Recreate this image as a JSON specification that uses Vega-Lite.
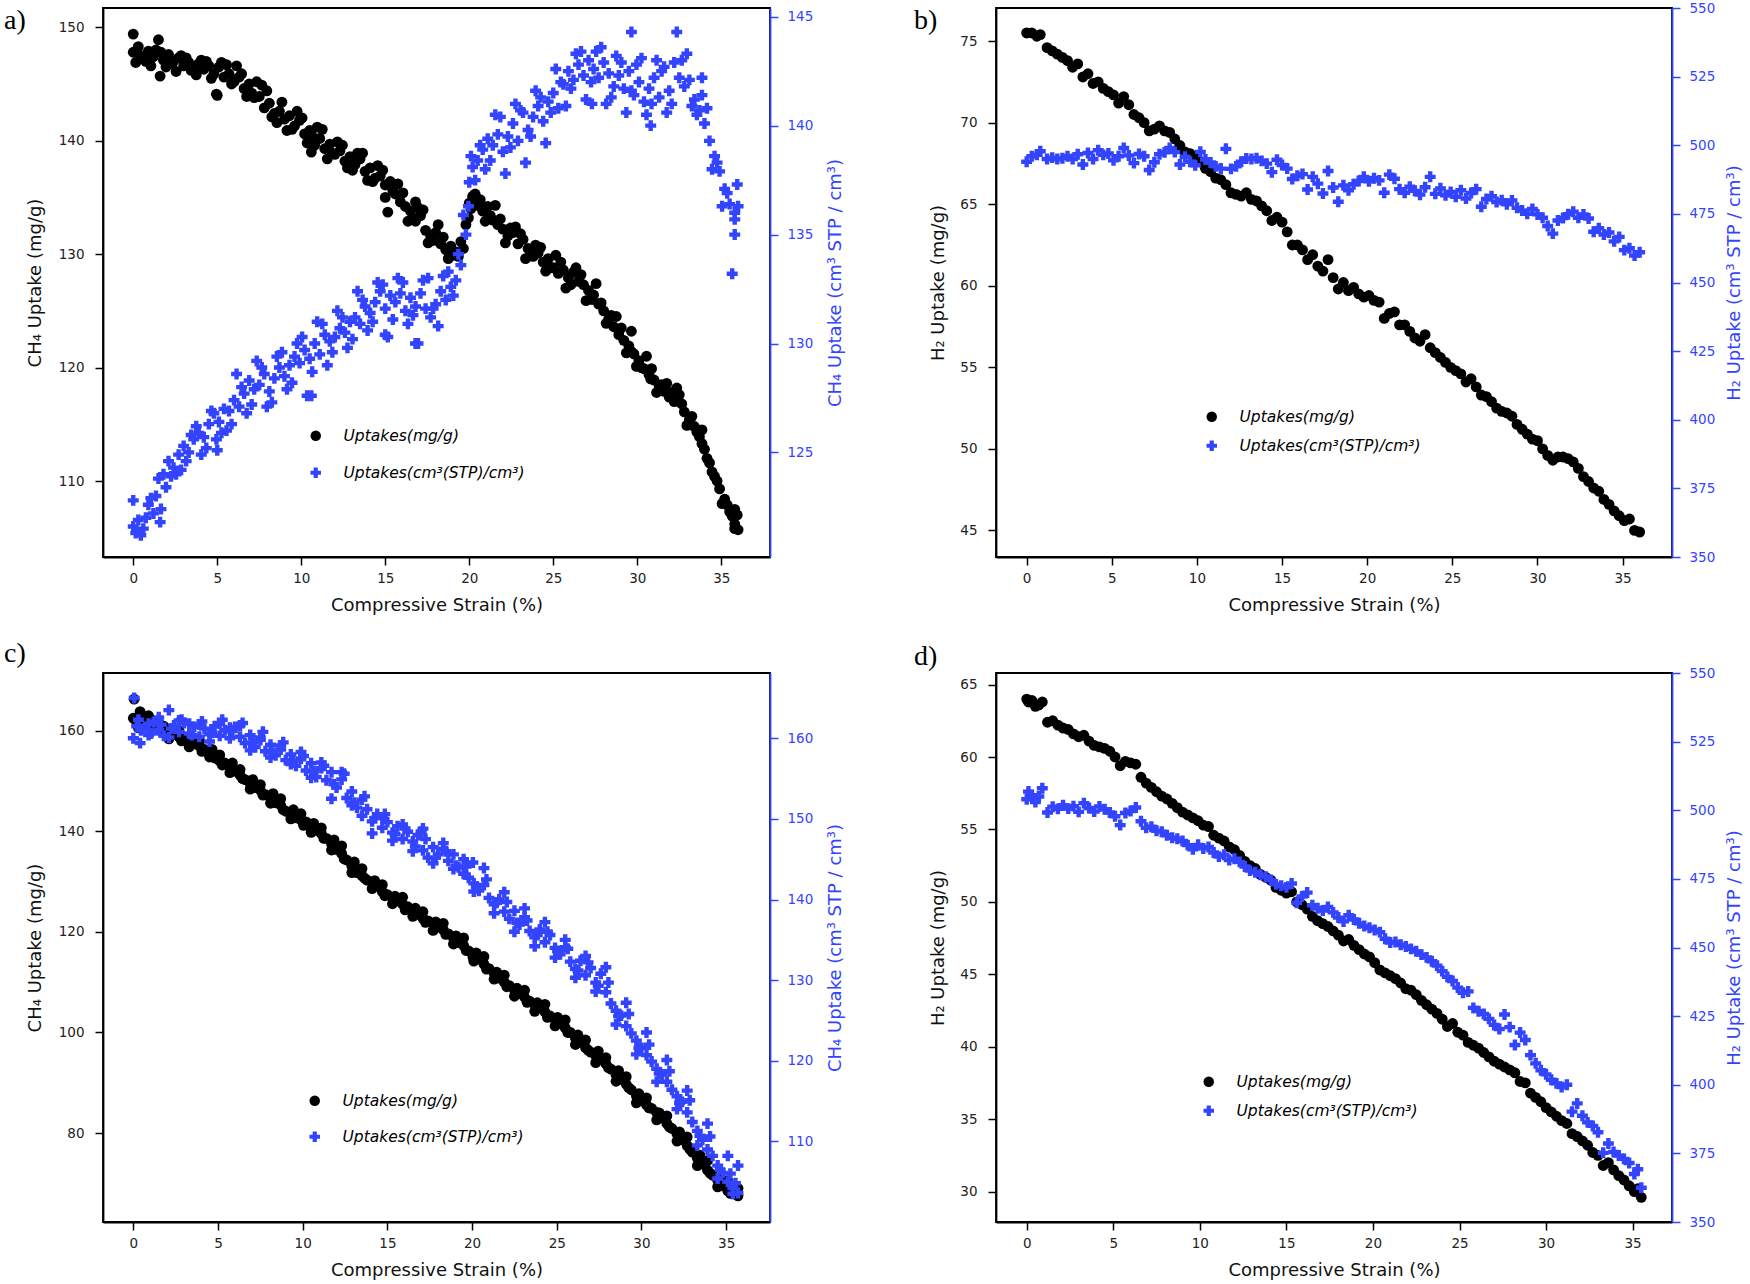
{
"$schema": "https://vega.github.io/schema/vega-lite/v6.json",
"padding": {"left": 3, "top": 0, "right": 5, "bottom": 5},
"background": "white",
"config": {
 "view": {"stroke": "black", "strokeWidth": 1.8},
 "font": "DejaVu Sans",
 "point": {"filled": true, "opacity": 1, "strokeWidth": 0},
 "axis": {"grid": false, "labelFont": "DejaVu Sans", "labelFontSize": 13.5, "labelColor": "#222222", "titleFont": "DejaVu Sans", "titleFontSize": 18, "titleFontWeight": "normal", "titleColor": "#111111", "tickSize": 8, "tickWidth": 1.5, "domainWidth": 1.8, "labelPadding": 6, "domainColor": "black", "tickColor": "black", "labelFlush": false, "labelOverlap": false},
 "axisLeft": {"labelPadding": 11},
 "axisRight": {"labelPadding": 9},
 "legend": {"orient": "none", "title": null, "labelFont": "DejaVu Sans", "labelFontStyle": "italic", "labelFontSize": 15.5, "labelLimit": 400, "symbolSize": 110, "symbolStrokeWidth": 0, "symbolOpacity": 1, "labelOffset": 20, "padding": 0},
 "title": {"font": "Liberation Serif", "fontSize": 28, "fontWeight": "normal", "color": "black", "anchor": "start", "frame": "group", "baseline": "top"}
},
"datasets": {
"a": [
{"x":0.0,"m":147.8,"v":121.6},{"x":0.3,"m":148.3,"v":121.9},{"x":0.6,"m":147.2,"v":121.5},{"x":0.9,"m":147.9,"v":122.6},{"x":1.2,"m":147.4,"v":122.2},{"x":1.5,"m":148.9,"v":123.8},{"x":1.8,"m":147.1,"v":124.0},{"x":2.1,"m":147.6,"v":124.6},{"x":2.4,"m":147.0,"v":124.3},{"x":2.7,"m":147.3,"v":124.9},
{"x":3.0,"m":146.6,"v":125.3},{"x":3.3,"m":146.9,"v":125.0},{"x":3.6,"m":146.4,"v":125.6},{"x":3.9,"m":146.8,"v":125.9},{"x":4.2,"m":146.3,"v":125.7},{"x":4.5,"m":146.6,"v":126.3},{"x":4.8,"m":145.9,"v":126.8},{"x":5.1,"m":146.5,"v":126.4},{"x":5.4,"m":145.6,"v":127.0},{"x":5.7,"m":145.9,"v":126.9},
{"x":6.0,"m":145.2,"v":127.4},{"x":6.3,"m":145.6,"v":127.1},{"x":6.6,"m":144.6,"v":127.7},{"x":6.9,"m":145.0,"v":128.3},{"x":7.2,"m":143.8,"v":127.9},{"x":7.5,"m":143.9,"v":128.1},{"x":7.8,"m":142.9,"v":128.6},{"x":8.1,"m":143.3,"v":127.8},{"x":8.4,"m":142.4,"v":128.4},{"x":8.7,"m":142.6,"v":128.9},
{"x":9.0,"m":141.9,"v":128.5},{"x":9.3,"m":142.2,"v":129.0},{"x":9.6,"m":141.3,"v":129.4},{"x":9.9,"m":141.8,"v":129.1},{"x":10.2,"m":140.6,"v":129.7},{"x":10.5,"m":140.9,"v":129.3},{"x":10.8,"m":139.6,"v":130.0},{"x":11.1,"m":140.2,"v":129.5},{"x":11.4,"m":139.3,"v":130.4},{"x":11.7,"m":139.7,"v":130.1},
{"x":12.0,"m":138.8,"v":130.3},{"x":12.3,"m":139.1,"v":130.7},{"x":12.6,"m":138.2,"v":130.5},{"x":12.9,"m":138.6,"v":131.0},{"x":13.2,"m":137.9,"v":131.2},{"x":13.5,"m":138.4,"v":130.9},{"x":13.8,"m":137.3,"v":131.7},{"x":14.1,"m":137.6,"v":131.4},{"x":14.4,"m":136.7,"v":131.9},{"x":14.7,"m":136.9,"v":132.4},
{"x":15.0,"m":136.1,"v":131.6},{"x":15.3,"m":136.4,"v":132.2},{"x":15.6,"m":135.3,"v":131.9},{"x":15.9,"m":134.6,"v":132.3},{"x":16.2,"m":134.2,"v":131.5},{"x":16.5,"m":133.8,"v":132.1},{"x":16.8,"m":132.9,"v":131.7},{"x":17.1,"m":133.4,"v":132.3},{"x":17.4,"m":132.1,"v":131.6},{"x":17.7,"m":131.6,"v":131.2},
{"x":18.0,"m":131.9,"v":131.8},{"x":18.3,"m":130.9,"v":132.4},{"x":18.6,"m":130.4,"v":132.0},{"x":18.9,"m":130.7,"v":132.6},{"x":19.2,"m":130.2,"v":132.9},{"x":19.5,"m":131.1,"v":133.6},{"x":19.8,"m":132.6,"v":135.0},{"x":20.0,"m":134.5,"v":137.4},{"x":20.2,"m":135.1,"v":138.1},{"x":20.5,"m":134.3,"v":138.4},
{"x":20.8,"m":133.8,"v":138.9},{"x":21.1,"m":134.2,"v":139.4},{"x":21.4,"m":133.0,"v":139.1},{"x":21.7,"m":132.6,"v":139.6},{"x":22.0,"m":132.2,"v":138.8},{"x":22.3,"m":131.6,"v":139.5},{"x":22.6,"m":131.9,"v":140.1},{"x":22.9,"m":130.9,"v":139.3},{"x":23.2,"m":131.3,"v":140.6},{"x":23.5,"m":130.5,"v":139.8},
{"x":23.8,"m":129.8,"v":140.4},{"x":24.1,"m":130.1,"v":140.9},{"x":24.4,"m":129.3,"v":140.2},{"x":24.7,"m":129.6,"v":141.1},{"x":25.0,"m":128.8,"v":141.5},{"x":25.3,"m":128.3,"v":140.8},{"x":25.6,"m":128.6,"v":141.9},{"x":25.9,"m":127.9,"v":142.5},{"x":26.2,"m":128.4,"v":142.1},{"x":26.5,"m":127.6,"v":142.8},
{"x":26.8,"m":127.3,"v":142.3},{"x":27.1,"m":126.8,"v":143.0},{"x":27.4,"m":126.4,"v":142.6},{"x":27.7,"m":125.6,"v":142.2},{"x":28.0,"m":125.0,"v":142.9},{"x":28.3,"m":124.3,"v":142.4},{"x":28.6,"m":123.6,"v":141.8},{"x":28.9,"m":122.9,"v":142.3},{"x":29.2,"m":122.4,"v":141.7},{"x":29.5,"m":121.9,"v":142.5},
{"x":29.8,"m":121.2,"v":141.4},{"x":30.1,"m":120.6,"v":142.0},{"x":30.4,"m":119.9,"v":141.1},{"x":30.7,"m":119.4,"v":141.7},{"x":31.0,"m":118.9,"v":142.2},{"x":31.3,"m":118.4,"v":141.3},{"x":31.6,"m":117.9,"v":142.7},{"x":31.9,"m":117.4,"v":141.6},{"x":32.2,"m":117.0,"v":142.9},{"x":32.5,"m":117.6,"v":142.2},
{"x":32.8,"m":116.1,"v":141.8},{"x":33.1,"m":115.4,"v":142.1},{"x":33.4,"m":114.8,"v":141.2},{"x":33.7,"m":113.9,"v":140.7},{"x":34.0,"m":112.8,"v":140.1},{"x":34.3,"m":111.6,"v":139.3},{"x":34.6,"m":110.4,"v":138.6},{"x":34.9,"m":109.3,"v":137.9},{"x":35.2,"m":108.4,"v":137.1},{"x":35.5,"m":107.3,"v":136.4},
{"x":35.8,"m":106.2,"v":135.7},{"x":36.0,"m":105.7,"v":136.3},
{"x":0.15,"m":146.9,"v":121.3},{"x":0.75,"m":147.0,"v":122.0},{"x":1.35,"m":148.0,"v":123.0},{"x":1.95,"m":146.5,"v":123.4},{"x":2.55,"m":146.1,"v":124.0},{"x":3.15,"m":147.3,"v":124.6},{"x":3.75,"m":145.8,"v":126.2},{"x":4.35,"m":147.0,"v":125.2},{"x":4.95,"m":144.1,"v":125.6},{"x":5.55,"m":146.7,"v":126.0},
{"x":6.15,"m":146.6,"v":128.6},{"x":6.75,"m":143.9,"v":126.8},{"x":7.35,"m":145.2,"v":129.2},{"x":7.95,"m":144.4,"v":127.1},{"x":8.55,"m":141.6,"v":129.4},{"x":9.15,"m":140.9,"v":127.9},{"x":9.75,"m":142.6,"v":130.0},{"x":10.35,"m":139.8,"v":127.6},{"x":10.95,"m":141.2,"v":131.0},{"x":11.55,"m":138.4,"v":129.0},
{"x":12.15,"m":139.9,"v":131.5},{"x":12.75,"m":137.6,"v":129.8},{"x":13.35,"m":138.9,"v":132.4},{"x":13.95,"m":136.5,"v":130.6},{"x":14.55,"m":137.8,"v":132.8},{"x":15.15,"m":133.7,"v":130.3},{"x":15.75,"m":136.2,"v":133.0},{"x":16.35,"m":132.9,"v":130.9},{"x":16.95,"m":134.1,"v":130.0},{"x":17.55,"m":131.0,"v":133.0},
{"x":18.15,"m":132.6,"v":130.8},{"x":18.75,"m":129.6,"v":133.3},{"x":19.35,"m":129.8,"v":134.1},{"x":19.65,"m":130.5,"v":135.9},{"x":19.95,"m":133.2,"v":136.3},{"x":20.35,"m":135.3,"v":137.5},{"x":20.95,"m":132.9,"v":138.0},{"x":21.55,"m":134.3,"v":140.5},{"x":22.15,"m":131.0,"v":137.8},{"x":22.75,"m":132.4,"v":141.0},
{"x":23.35,"m":129.6,"v":138.3},{"x":23.95,"m":130.8,"v":141.6},{"x":24.55,"m":128.5,"v":139.2},{"x":25.15,"m":129.9,"v":142.6},{"x":25.75,"m":127.0,"v":140.9},{"x":26.35,"m":128.8,"v":143.3},{"x":26.95,"m":125.9,"v":141.2},{"x":27.55,"m":127.4,"v":143.4},{"x":28.15,"m":123.9,"v":141.0},{"x":28.75,"m":124.5,"v":143.2},
{"x":29.35,"m":121.3,"v":140.6},{"x":29.65,"m":123.2,"v":144.3},{"x":29.95,"m":120.1,"v":142.8},{"x":30.55,"m":121.0,"v":140.5},{"x":31.15,"m":117.8,"v":143.0},{"x":31.75,"m":118.6,"v":140.6},{"x":32.35,"m":118.2,"v":144.3},{"x":32.95,"m":114.9,"v":143.3},{"x":33.55,"m":114.3,"v":140.5},{"x":33.85,"m":114.5,"v":142.2},
{"x":34.45,"m":110.8,"v":138.0},{"x":35.05,"m":108.0,"v":136.3},{"x":35.65,"m":106.9,"v":133.2},{"x":35.95,"m":107.0,"v":137.3},
{"x":0.0,"m":149.4,"v":122.8},{"x":1.6,"m":145.7,"v":121.8},{"x":5.0,"m":144.0,"v":125.1},{"x":16.8,"m":134.6,"v":130.0},{"x":15.0,"m":135.0,"v":130.4},{"x":10.6,"m":139.0,"v":127.6},{"x":35.8,"m":107.5,"v":135.0},{"x":30.8,"m":119.0,"v":140.0},{"x":27.3,"m":126.0,"v":141.0},
{"x":0.45,"m":147.5,"v":121.2},{"x":1.05,"m":146.6,"v":122.9},{"x":1.65,"m":147.8,"v":122.4},{"x":2.25,"m":146.8,"v":123.9},{"x":2.85,"m":147.5,"v":124.2},{"x":3.45,"m":146.2,"v":125.8},{"x":4.05,"m":147.1,"v":124.9},{"x":4.65,"m":145.5,"v":126.9},{"x":5.25,"m":146.9,"v":125.9},{"x":5.85,"m":145.0,"v":126.3},
{"x":6.45,"m":145.9,"v":128.0},{"x":7.05,"m":144.2,"v":127.2},{"x":7.65,"m":144.9,"v":128.9},{"x":8.25,"m":142.1,"v":127.3},{"x":8.85,"m":143.4,"v":129.6},{"x":9.45,"m":141.0,"v":128.2},{"x":10.05,"m":142.0,"v":130.3},{"x":10.65,"m":140.4,"v":128.7},{"x":11.25,"m":141.0,"v":130.9},{"x":11.85,"m":138.9,"v":129.6},
{"x":12.45,"m":139.6,"v":131.2},{"x":13.05,"m":137.4,"v":130.2},{"x":13.65,"m":138.9,"v":132.0},{"x":14.25,"m":136.4,"v":131.0},{"x":14.85,"m":137.4,"v":132.7},{"x":15.45,"m":135.6,"v":131.1},{"x":16.05,"m":135.4,"v":132.8},{"x":16.65,"m":133.2,"v":131.3},{"x":17.25,"m":133.9,"v":132.9},{"x":17.85,"m":131.2,"v":131.6},
{"x":18.45,"m":131.5,"v":133.1},{"x":19.05,"m":129.9,"v":132.2},{"x":20.1,"m":134.0,"v":138.6},{"x":20.65,"m":134.8,"v":139.1},{"x":21.25,"m":133.4,"v":138.4},{"x":21.85,"m":133.1,"v":140.4},{"x":22.45,"m":132.3,"v":139.0},{"x":23.05,"m":131.8,"v":140.7},{"x":23.65,"m":130.1,"v":139.5},{"x":24.25,"m":130.6,"v":141.3},
{"x":24.85,"m":128.8,"v":140.6},{"x":25.45,"m":129.3,"v":142.0},{"x":26.05,"m":127.3,"v":141.7},{"x":26.65,"m":128.2,"v":143.4},{"x":27.25,"m":126.1,"v":142.0},{"x":27.85,"m":125.7,"v":143.6},{"x":28.45,"m":124.6,"v":141.3},{"x":29.05,"m":123.5,"v":142.9},{"x":29.65,"m":121.4,"v":141.6},{"x":30.25,"m":120.0,"v":143.1},
{"x":30.85,"m":119.9,"v":141.0},{"x":31.45,"m":118.5,"v":142.5},{"x":32.05,"m":117.8,"v":141.0},{"x":32.65,"m":116.8,"v":143.0},{"x":33.25,"m":115.7,"v":140.9},{"x":33.85,"m":113.3,"v":141.4},{"x":34.15,"m":112.0,"v":140.8},{"x":34.75,"m":110.0,"v":138.3},{"x":35.35,"m":107.9,"v":136.9},{"x":35.8,"m":105.8,"v":136.0}
],
"b": [
{"x":0.0,"m":75.5,"v":494.0},{"x":0.3,"m":75.5,"v":496.0},{"x":0.6,"m":75.3,"v":496.5},{"x":0.8,"m":75.4,"v":497.8},{"x":1.2,"m":74.6,"v":495.0},{"x":1.5,"m":74.4,"v":495.5},{"x":1.8,"m":74.2,"v":495.0},{"x":2.1,"m":74.0,"v":495.3},{"x":2.4,"m":73.8,"v":496.0},{"x":2.7,"m":73.4,"v":495.0},
{"x":3.0,"m":73.6,"v":496.7},{"x":3.3,"m":72.8,"v":493.0},{"x":3.6,"m":73.0,"v":497.2},{"x":3.9,"m":72.4,"v":495.0},{"x":4.2,"m":72.5,"v":498.2},{"x":4.5,"m":72.1,"v":496.5},{"x":4.8,"m":71.9,"v":497.0},{"x":5.1,"m":71.7,"v":494.5},{"x":5.4,"m":71.2,"v":496.0},{"x":5.7,"m":71.6,"v":499.0},
{"x":6.0,"m":71.1,"v":496.3},{"x":6.3,"m":70.5,"v":493.5},{"x":6.6,"m":70.3,"v":496.8},{"x":6.9,"m":70.0,"v":496.0},{"x":7.2,"m":69.5,"v":491.0},{"x":7.5,"m":69.6,"v":493.8},{"x":7.8,"m":69.8,"v":496.7},{"x":8.1,"m":69.5,"v":497.4},{"x":8.4,"m":69.4,"v":499.0},{"x":8.7,"m":69.0,"v":497.5},
{"x":9.0,"m":68.6,"v":493.0},{"x":9.3,"m":68.2,"v":495.8},{"x":9.6,"m":68.1,"v":494.0},{"x":9.9,"m":67.9,"v":492.7},{"x":10.2,"m":67.6,"v":497.6},{"x":10.5,"m":67.2,"v":494.8},{"x":10.8,"m":67.0,"v":493.7},{"x":11.1,"m":66.6,"v":492.3},{"x":11.4,"m":66.5,"v":491.5},{"x":11.7,"m":66.2,"v":498.7},
{"x":12.0,"m":65.7,"v":491.4},{"x":12.3,"m":65.6,"v":492.3},{"x":12.6,"m":65.5,"v":494.0},{"x":12.9,"m":65.7,"v":495.2},{"x":13.2,"m":65.3,"v":495.0},{"x":13.5,"m":65.2,"v":495.3},{"x":13.8,"m":64.9,"v":494.3},{"x":14.1,"m":64.6,"v":493.3},{"x":14.4,"m":64.0,"v":490.2},{"x":14.7,"m":64.2,"v":494.7},
{"x":15.0,"m":63.9,"v":492.8},{"x":15.3,"m":63.3,"v":491.5},{"x":15.6,"m":62.5,"v":487.7},{"x":15.9,"m":62.5,"v":488.9},{"x":16.2,"m":62.2,"v":489.5},{"x":16.5,"m":61.6,"v":483.9},{"x":16.8,"m":61.9,"v":488.5},{"x":17.1,"m":61.2,"v":486.0},{"x":17.4,"m":60.9,"v":482.4},{"x":17.7,"m":61.6,"v":490.6},
{"x":18.0,"m":60.5,"v":484.6},{"x":18.3,"m":59.8,"v":479.4},{"x":18.6,"m":60.2,"v":485.4},{"x":18.9,"m":59.7,"v":483.6},{"x":19.2,"m":59.9,"v":485.8},{"x":19.5,"m":59.5,"v":487.0},{"x":19.8,"m":59.3,"v":488.5},{"x":20.1,"m":59.4,"v":486.9},{"x":20.4,"m":59.1,"v":488.0},{"x":20.7,"m":59.0,"v":487.2},
{"x":21.0,"m":58.0,"v":482.7},{"x":21.3,"m":58.3,"v":489.3},{"x":21.6,"m":58.4,"v":487.8},{"x":21.9,"m":57.6,"v":484.0},{"x":22.2,"m":57.6,"v":482.7},{"x":22.5,"m":57.2,"v":484.9},{"x":22.8,"m":56.8,"v":483.4},{"x":23.1,"m":56.6,"v":482.0},{"x":23.4,"m":57.0,"v":484.7},{"x":23.7,"m":56.2,"v":488.5},
{"x":24.0,"m":55.9,"v":482.3},{"x":24.3,"m":55.6,"v":484.3},{"x":24.6,"m":55.3,"v":481.8},{"x":24.9,"m":55.0,"v":483.0},{"x":25.2,"m":54.8,"v":481.2},{"x":25.5,"m":54.6,"v":483.6},{"x":25.8,"m":54.1,"v":480.6},{"x":26.1,"m":54.3,"v":482.6},{"x":26.4,"m":53.8,"v":484.0},{"x":26.7,"m":53.3,"v":477.6},
{"x":27.0,"m":53.2,"v":480.4},{"x":27.3,"m":52.9,"v":481.4},{"x":27.6,"m":52.5,"v":479.3},{"x":27.9,"m":52.3,"v":480.0},{"x":28.2,"m":52.2,"v":478.5},{"x":28.5,"m":52.0,"v":479.9},{"x":28.8,"m":51.5,"v":477.2},{"x":29.1,"m":51.2,"v":476.2},{"x":29.4,"m":50.9,"v":475.0},{"x":29.7,"m":50.6,"v":476.8},
{"x":30.0,"m":50.5,"v":474.8},{"x":30.3,"m":50.0,"v":473.6},{"x":30.6,"m":49.6,"v":470.6},{"x":30.9,"m":49.3,"v":467.8},{"x":31.2,"m":49.5,"v":472.6},{"x":31.5,"m":49.5,"v":473.5},{"x":31.8,"m":49.4,"v":474.9},{"x":32.1,"m":49.2,"v":475.8},{"x":32.4,"m":48.8,"v":473.6},{"x":32.7,"m":48.3,"v":474.8},
{"x":33.0,"m":48.0,"v":473.3},{"x":33.3,"m":47.6,"v":468.5},{"x":33.6,"m":47.4,"v":469.8},{"x":33.9,"m":46.9,"v":467.5},{"x":34.2,"m":46.6,"v":468.2},{"x":34.5,"m":46.2,"v":465.0},{"x":34.8,"m":45.9,"v":466.6},{"x":35.1,"m":45.6,"v":461.8},{"x":35.4,"m":45.7,"v":462.5},{"x":35.7,"m":45.0,"v":459.8},
{"x":36.0,"m":44.9,"v":461.0}
],
"c": [
{"x":0.0,"m":162.5,"v":160.0},{"x":0.05,"m":166.3,"v":165.0},{"x":0.2,"m":161.8,"v":161.5},{"x":0.4,"m":163.8,"v":159.4},{"x":0.6,"m":162.9,"v":161.2},{"x":0.9,"m":161.6,"v":160.4},{"x":1.2,"m":161.2,"v":162.0},{"x":1.5,"m":160.4,"v":161.0},{"x":1.8,"m":160.9,"v":160.3},{"x":2.1,"m":159.6,"v":163.5},
{"x":2.4,"m":159.3,"v":161.6},{"x":2.7,"m":158.8,"v":160.8},{"x":3.0,"m":158.5,"v":161.9},{"x":3.3,"m":157.8,"v":160.6},{"x":3.6,"m":157.4,"v":161.4},{"x":3.9,"m":157.0,"v":160.2},{"x":4.2,"m":156.3,"v":161.2},{"x":4.5,"m":155.8,"v":160.5},{"x":4.8,"m":154.6,"v":161.5},{"x":5.1,"m":154.0,"v":160.3},
{"x":5.4,"m":153.6,"v":161.0},{"x":5.7,"m":152.8,"v":160.0},{"x":6.0,"m":152.0,"v":161.4},{"x":6.3,"m":151.2,"v":160.2},{"x":6.6,"m":150.3,"v":159.4},{"x":6.9,"m":149.5,"v":160.4},{"x":7.2,"m":148.7,"v":158.9},{"x":7.5,"m":148.2,"v":159.8},{"x":7.8,"m":147.3,"v":158.4},{"x":8.1,"m":146.6,"v":159.2},
{"x":8.4,"m":145.7,"v":157.9},{"x":8.7,"m":145.2,"v":158.6},{"x":9.0,"m":144.0,"v":157.3},{"x":9.3,"m":143.6,"v":158.0},{"x":9.6,"m":142.7,"v":156.6},{"x":9.9,"m":142.3,"v":157.5},{"x":10.2,"m":141.9,"v":156.0},{"x":10.5,"m":141.0,"v":156.9},{"x":10.8,"m":140.2,"v":155.2},{"x":11.1,"m":139.6,"v":156.3},
{"x":11.4,"m":138.6,"v":154.8},{"x":11.7,"m":137.6,"v":155.8},{"x":12.0,"m":136.4,"v":153.9},{"x":12.3,"m":135.6,"v":154.9},{"x":12.6,"m":134.3,"v":152.6},{"x":12.9,"m":133.1,"v":153.4},{"x":13.2,"m":131.8,"v":151.4},{"x":13.5,"m":131.2,"v":150.4},{"x":13.8,"m":130.3,"v":151.2},{"x":14.1,"m":129.8,"v":149.7},
{"x":14.4,"m":129.1,"v":150.6},{"x":14.7,"m":128.0,"v":148.9},{"x":15.0,"m":127.4,"v":149.6},{"x":15.3,"m":126.8,"v":148.3},{"x":15.6,"m":126.2,"v":149.1},{"x":15.9,"m":125.5,"v":147.5},{"x":16.2,"m":125.0,"v":148.4},{"x":16.5,"m":124.3,"v":147.2},{"x":16.8,"m":123.6,"v":148.0},{"x":17.1,"m":122.7,"v":146.1},
{"x":17.4,"m":122.2,"v":145.2},{"x":17.7,"m":121.6,"v":146.5},{"x":18.0,"m":121.0,"v":145.6},{"x":18.3,"m":120.4,"v":146.3},{"x":18.6,"m":119.6,"v":144.8},{"x":18.9,"m":118.8,"v":145.6},{"x":19.2,"m":117.9,"v":144.0},{"x":19.5,"m":117.3,"v":143.2},{"x":19.8,"m":116.2,"v":142.7},{"x":20.1,"m":115.6,"v":142.0},
{"x":20.4,"m":114.6,"v":141.1},{"x":20.7,"m":113.6,"v":141.8},{"x":21.0,"m":112.7,"v":140.2},{"x":21.3,"m":111.8,"v":139.4},{"x":21.6,"m":110.8,"v":140.0},{"x":21.9,"m":110.0,"v":138.5},{"x":22.2,"m":109.3,"v":137.6},{"x":22.5,"m":108.5,"v":138.6},{"x":22.8,"m":107.8,"v":136.9},{"x":23.1,"m":107.0,"v":137.8},
{"x":23.4,"m":106.2,"v":136.1},{"x":23.7,"m":105.5,"v":135.3},{"x":24.0,"m":104.9,"v":136.3},{"x":24.3,"m":104.1,"v":134.7},{"x":24.6,"m":103.3,"v":135.6},{"x":24.9,"m":102.6,"v":134.0},{"x":25.2,"m":101.8,"v":133.2},{"x":25.5,"m":100.9,"v":134.1},{"x":25.8,"m":100.0,"v":132.3},{"x":26.1,"m":98.9,"v":131.4},
{"x":26.4,"m":98.1,"v":132.4},{"x":26.7,"m":97.0,"v":130.6},{"x":27.0,"m":96.1,"v":131.5},{"x":27.3,"m":95.4,"v":129.7},{"x":27.6,"m":94.7,"v":130.8},{"x":27.9,"m":93.8,"v":128.5},{"x":28.2,"m":92.7,"v":127.1},{"x":28.5,"m":91.6,"v":126.2},{"x":28.8,"m":90.7,"v":125.6},{"x":29.1,"m":89.7,"v":124.3},
{"x":29.4,"m":88.6,"v":123.4},{"x":29.7,"m":87.4,"v":122.5},{"x":30.0,"m":86.4,"v":121.6},{"x":30.3,"m":85.6,"v":120.7},{"x":30.6,"m":84.9,"v":119.9},{"x":30.9,"m":84.1,"v":119.0},{"x":31.2,"m":83.0,"v":118.3},{"x":31.5,"m":81.9,"v":117.4},{"x":31.8,"m":80.9,"v":116.4},{"x":32.1,"m":79.8,"v":115.6},
{"x":32.4,"m":78.7,"v":114.9},{"x":32.7,"m":77.5,"v":113.6},{"x":33.0,"m":76.2,"v":112.4},{"x":33.3,"m":75.0,"v":111.3},{"x":33.6,"m":73.8,"v":110.2},{"x":33.9,"m":72.6,"v":109.0},{"x":34.2,"m":71.6,"v":108.2},{"x":34.5,"m":70.6,"v":107.0},{"x":34.8,"m":69.5,"v":106.1},{"x":35.1,"m":68.5,"v":105.0},
{"x":35.4,"m":67.9,"v":104.2},{"x":35.7,"m":67.5,"v":103.6},
{"x":0.3,"m":160.6,"v":162.3},{"x":0.9,"m":163.0,"v":161.8},{"x":1.5,"m":161.6,"v":162.6},{"x":2.1,"m":158.4,"v":160.1},{"x":2.7,"m":160.0,"v":162.2},{"x":3.3,"m":156.8,"v":161.8},{"x":3.9,"m":158.0,"v":161.7},{"x":4.5,"m":154.8,"v":159.6},{"x":5.1,"m":155.2,"v":161.8},{"x":5.7,"m":151.7,"v":161.3},
{"x":6.3,"m":152.3,"v":161.6},{"x":6.9,"m":148.4,"v":158.5},{"x":7.5,"m":149.3,"v":160.1},{"x":8.1,"m":145.6,"v":157.6},{"x":8.7,"m":146.5,"v":159.1},{"x":9.3,"m":142.5,"v":156.8},{"x":9.9,"m":143.5,"v":158.3},{"x":10.5,"m":139.8,"v":155.1},{"x":11.1,"m":140.7,"v":157.0},{"x":11.7,"m":136.3,"v":152.5},
{"x":12.3,"m":137.1,"v":155.8},{"x":12.9,"m":131.8,"v":151.7},{"x":13.5,"m":132.6,"v":152.4},{"x":14.1,"m":128.6,"v":148.2},{"x":14.7,"m":129.4,"v":150.1},{"x":15.3,"m":125.6,"v":147.3},{"x":15.9,"m":126.9,"v":149.3},{"x":16.5,"m":123.1,"v":146.0},{"x":17.1,"m":124.0,"v":148.8},{"x":17.7,"m":120.3,"v":144.5},
{"x":18.3,"m":121.7,"v":147.0},{"x":18.9,"m":117.6,"v":143.8},{"x":19.5,"m":118.8,"v":145.0},{"x":20.1,"m":114.2,"v":141.0},{"x":20.7,"m":115.1,"v":143.9},{"x":21.3,"m":110.6,"v":138.3},{"x":21.9,"m":111.4,"v":140.9},{"x":22.5,"m":107.2,"v":136.0},{"x":23.1,"m":108.4,"v":138.9},{"x":23.7,"m":104.2,"v":134.2},
{"x":24.3,"m":105.6,"v":137.2},{"x":24.9,"m":101.3,"v":132.8},{"x":25.5,"m":102.5,"v":135.0},{"x":26.1,"m":97.6,"v":130.3},{"x":26.7,"m":98.5,"v":133.0},{"x":27.3,"m":94.0,"v":128.6},{"x":27.9,"m":95.0,"v":131.6},{"x":28.5,"m":90.3,"v":124.5},{"x":29.1,"m":91.2,"v":127.2},{"x":29.7,"m":86.0,"v":120.8},
{"x":30.3,"m":87.0,"v":123.5},{"x":30.9,"m":82.6,"v":117.4},{"x":31.5,"m":83.4,"v":120.1},{"x":32.1,"m":78.4,"v":114.0},{"x":32.7,"m":79.2,"v":116.3},{"x":33.3,"m":73.5,"v":109.5},{"x":33.9,"m":74.5,"v":112.2},{"x":34.5,"m":69.3,"v":105.4},{"x":35.1,"m":70.5,"v":108.2},{"x":35.4,"m":68.4,"v":103.5},
{"x":35.7,"m":69.0,"v":107.0},
{"x":0.45,"m":161.1,"v":161.0},{"x":1.05,"m":162.2,"v":160.6},{"x":1.65,"m":160.2,"v":161.7},{"x":2.25,"m":160.3,"v":161.2},{"x":2.85,"m":158.0,"v":162.3},{"x":3.45,"m":158.1,"v":160.4},{"x":4.05,"m":155.9,"v":162.1},{"x":4.65,"m":156.3,"v":160.7},{"x":5.25,"m":153.2,"v":162.3},{"x":5.85,"m":153.6,"v":160.9},
{"x":6.45,"m":150.5,"v":161.9},{"x":7.05,"m":150.3,"v":159.5},{"x":7.65,"m":147.2,"v":160.8},{"x":8.25,"m":147.5,"v":158.2},{"x":8.85,"m":144.3,"v":159.5},{"x":9.45,"m":144.3,"v":157.2},{"x":10.05,"m":141.2,"v":157.8},{"x":10.65,"m":141.6,"v":155.9},{"x":11.25,"m":138.6,"v":156.6},{"x":11.85,"m":138.3,"v":154.3},
{"x":12.45,"m":134.5,"v":155.6},{"x":13.05,"m":133.9,"v":152.0},{"x":13.65,"m":130.7,"v":152.8},{"x":14.25,"m":130.2,"v":150.1},{"x":14.85,"m":127.2,"v":150.6},{"x":15.45,"m":127.1,"v":148.1},{"x":16.05,"m":124.4,"v":148.8},{"x":16.65,"m":124.7,"v":146.6},{"x":17.25,"m":121.9,"v":147.5},{"x":17.85,"m":122.0,"v":145.2},
{"x":18.45,"m":119.5,"v":146.0},{"x":19.05,"m":119.2,"v":144.2},{"x":19.65,"m":116.3,"v":144.1},{"x":20.25,"m":115.8,"v":141.6},{"x":20.85,"m":112.6,"v":142.5},{"x":21.45,"m":112.0,"v":139.6},{"x":22.05,"m":109.1,"v":139.7},{"x":22.65,"m":108.8,"v":137.1},{"x":23.25,"m":106.0,"v":137.4},{"x":23.85,"m":105.9,"v":135.6},
{"x":24.45,"m":103.0,"v":136.0},{"x":25.05,"m":103.0,"v":133.6},{"x":25.65,"m":100.0,"v":133.9},{"x":26.25,"m":99.5,"v":131.2},{"x":26.85,"m":96.5,"v":132.2},{"x":27.45,"m":96.3,"v":129.3},{"x":28.05,"m":93.0,"v":129.7},{"x":28.65,"m":92.4,"v":125.5},{"x":29.25,"m":89.0,"v":125.8},{"x":29.85,"m":87.8,"v":121.6},
{"x":30.45,"m":85.0,"v":122.0},{"x":31.05,"m":84.0,"v":118.4},{"x":31.65,"m":81.2,"v":118.7},{"x":32.25,"m":80.2,"v":114.8},{"x":32.85,"m":76.8,"v":115.1},{"x":33.45,"m":75.6,"v":110.7},{"x":34.05,"m":72.0,"v":110.6},{"x":34.65,"m":70.9,"v":106.5},{"x":35.25,"m":68.0,"v":106.0},{"x":35.55,"m":69.2,"v":104.8},
{"x":17.0,"m":123.2,"v":148.4},{"x":20.05,"m":115.0,"v":144.6}
],
"d": [
{"x":0.0,"m":64.0,"v":504.0},{"x":0.1,"m":63.8,"v":506.8},{"x":0.3,"m":63.9,"v":505.5},{"x":0.5,"m":63.5,"v":503.0},{"x":0.7,"m":63.6,"v":505.0},{"x":0.9,"m":63.8,"v":508.0},{"x":1.2,"m":62.4,"v":499.2},{"x":1.5,"m":62.5,"v":501.3},{"x":1.8,"m":62.2,"v":500.5},{"x":2.1,"m":62.0,"v":501.8},
{"x":2.4,"m":61.9,"v":500.6},{"x":2.7,"m":61.6,"v":501.5},{"x":3.0,"m":61.4,"v":499.4},{"x":3.3,"m":61.5,"v":502.6},{"x":3.6,"m":61.1,"v":500.8},{"x":3.9,"m":60.8,"v":499.5},{"x":4.2,"m":60.7,"v":501.4},{"x":4.5,"m":60.6,"v":500.4},{"x":4.8,"m":60.4,"v":499.2},{"x":5.1,"m":60.0,"v":497.8},
{"x":5.4,"m":59.4,"v":494.6},{"x":5.7,"m":59.7,"v":499.0},{"x":6.0,"m":59.6,"v":499.7},{"x":6.3,"m":59.5,"v":501.0},{"x":6.6,"m":58.6,"v":496.0},{"x":6.9,"m":58.2,"v":493.6},{"x":7.2,"m":57.9,"v":494.0},{"x":7.5,"m":57.6,"v":492.5},{"x":7.8,"m":57.3,"v":492.2},{"x":8.1,"m":57.1,"v":490.9},
{"x":8.4,"m":56.8,"v":490.0},{"x":8.7,"m":56.5,"v":489.6},{"x":9.0,"m":56.2,"v":488.8},{"x":9.3,"m":56.0,"v":487.3},{"x":9.6,"m":55.8,"v":485.8},{"x":9.9,"m":55.6,"v":487.4},{"x":10.2,"m":55.3,"v":486.1},{"x":10.5,"m":55.2,"v":486.6},{"x":10.8,"m":54.6,"v":484.6},{"x":11.1,"m":54.4,"v":483.1},
{"x":11.4,"m":54.2,"v":483.8},{"x":11.7,"m":53.8,"v":481.9},{"x":12.0,"m":53.6,"v":482.3},{"x":12.3,"m":53.2,"v":481.2},{"x":12.6,"m":52.8,"v":479.5},{"x":12.9,"m":52.5,"v":478.0},{"x":13.2,"m":52.3,"v":477.4},{"x":13.5,"m":51.9,"v":476.5},{"x":13.8,"m":51.7,"v":475.8},{"x":14.1,"m":51.5,"v":474.6},
{"x":14.4,"m":51.0,"v":473.0},{"x":14.7,"m":50.8,"v":472.5},{"x":15.0,"m":50.6,"v":471.9},{"x":15.3,"m":50.7,"v":473.3},{"x":15.6,"m":50.0,"v":466.3},{"x":15.9,"m":49.8,"v":468.6},{"x":16.2,"m":49.5,"v":470.0},{"x":16.5,"m":49.0,"v":465.4},{"x":16.8,"m":48.7,"v":464.3},{"x":17.1,"m":48.5,"v":463.5},
{"x":17.4,"m":48.3,"v":464.8},{"x":17.7,"m":48.0,"v":462.8},{"x":18.0,"m":47.7,"v":460.9},{"x":18.3,"m":47.3,"v":459.5},{"x":18.6,"m":47.4,"v":461.8},{"x":18.9,"m":47.0,"v":460.2},{"x":19.2,"m":46.7,"v":458.8},{"x":19.5,"m":46.4,"v":457.8},{"x":19.8,"m":46.2,"v":457.2},{"x":20.1,"m":45.8,"v":456.4},
{"x":20.4,"m":45.3,"v":455.6},{"x":20.7,"m":45.1,"v":453.2},{"x":21.0,"m":44.9,"v":451.8},{"x":21.3,"m":44.7,"v":452.0},{"x":21.6,"m":44.4,"v":451.0},{"x":21.9,"m":44.0,"v":450.4},{"x":22.2,"m":43.9,"v":449.5},{"x":22.5,"m":43.6,"v":448.6},{"x":22.8,"m":43.2,"v":447.4},{"x":23.1,"m":42.9,"v":446.4},
{"x":23.4,"m":42.6,"v":445.0},{"x":23.7,"m":42.3,"v":443.4},{"x":24.0,"m":41.9,"v":441.4},{"x":24.3,"m":41.4,"v":439.3},{"x":24.6,"m":41.6,"v":437.8},{"x":24.9,"m":41.0,"v":435.4},{"x":25.2,"m":40.8,"v":433.5},{"x":25.5,"m":40.3,"v":434.0},{"x":25.8,"m":40.1,"v":428.0},{"x":26.1,"m":39.9,"v":426.8},
{"x":26.4,"m":39.6,"v":425.8},{"x":26.7,"m":39.3,"v":424.0},{"x":27.0,"m":39.0,"v":421.8},{"x":27.3,"m":38.8,"v":420.3},{"x":27.6,"m":38.6,"v":425.6},{"x":27.9,"m":38.4,"v":421.0},{"x":28.2,"m":38.2,"v":414.5},{"x":28.5,"m":37.6,"v":419.0},{"x":28.8,"m":37.5,"v":416.3},{"x":29.1,"m":36.8,"v":410.8},
{"x":29.4,"m":36.5,"v":407.8},{"x":29.7,"m":36.2,"v":405.3},{"x":30.0,"m":35.8,"v":403.8},{"x":30.3,"m":35.5,"v":401.8},{"x":30.6,"m":35.2,"v":400.5},{"x":30.9,"m":34.9,"v":399.2},{"x":31.2,"m":34.7,"v":400.0},{"x":31.5,"m":34.0,"v":390.2},{"x":31.8,"m":33.8,"v":393.2},{"x":32.1,"m":33.5,"v":388.7},
{"x":32.4,"m":33.2,"v":386.3},{"x":32.7,"m":32.7,"v":385.0},{"x":33.0,"m":32.5,"v":382.7},{"x":33.3,"m":31.8,"v":375.2},{"x":33.6,"m":32.0,"v":378.6},{"x":33.9,"m":31.5,"v":375.5},{"x":34.2,"m":31.1,"v":374.2},{"x":34.5,"m":30.8,"v":373.0},{"x":34.8,"m":30.4,"v":371.5},{"x":35.1,"m":30.0,"v":367.5},
{"x":35.3,"m":30.2,"v":369.2},{"x":35.5,"m":29.6,"v":362.5}
]
},
"columns": 2,
"bounds": "flush",
"spacing": {"row": 116, "column": 226},
"resolve": {"scale": {"color": "independent", "shape": "independent"}, "legend": {"color": "independent", "shape": "independent"}},
"concat": [
{
 "width": 667, "height": 549,
 "title": {"text": "a)", "dx": -99, "offset": -27},
 "data": {"name": "a"},
 "layer": [
  {"mark": {"type": "point", "size": 118},
   "encoding": {
    "x": {"field": "x", "type": "quantitative", "scale": {"domain": [-1.8, 37.9], "nice": false, "zero": false}, "axis": {"values": [0,5,10,15,20,25,30,35], "title": "Compressive Strain (%)", "titleX": 333.5, "titleY": 48, "titleBaseline": "middle", "titleAlign": "center"}},
    "y": {"field": "m", "type": "quantitative", "scale": {"domain": [103.3, 151.7], "nice": false, "zero": false}, "axis": {"orient": "left", "values": [110,120,130,140,150], "title": "CH₄ Uptake (mg/g)", "titleX": -68, "titleY": 274.5, "titleAngle": 270, "titleBaseline": "middle", "titleAlign": "center"}},
    "color": {"datum": "Uptakes(mg/g)", "scale": {"domain": ["Uptakes(mg/g)", "Uptakes(cm³(STP)/cm³)"], "range": ["#000000", "#3344ff"]}, "legend": {"legendX": 205, "legendY": 420, "rowPadding": 20, "encode": {"labels": {"update": {"fill": {"signal": "datum.value === 'Uptakes(mg/g)' ? '#000000' : '#3344ff'"}}}}}},
    "shape": {"datum": "Uptakes(mg/g)", "scale": {"domain": ["Uptakes(mg/g)", "Uptakes(cm³(STP)/cm³)"], "range": ["circle", "cross"]}, "legend": {"legendX": 205, "legendY": 420, "rowPadding": 20, "encode": {"labels": {"update": {"fill": {"signal": "datum.value === 'Uptakes(mg/g)' ? '#000000' : '#3344ff'"}}}}}}
   }},
  {"mark": {"type": "point", "size": 120},
   "encoding": {
    "x": {"field": "x", "type": "quantitative", "scale": {"domain": [-1.8, 37.9], "nice": false, "zero": false}},
    "y": {"field": "v", "type": "quantitative", "scale": {"domain": [120.2, 145.4], "nice": false, "zero": false}, "axis": {"orient": "right", "values": [125,130,135,140,145], "title": "CH₄ Uptake (cm³ STP / cm³)", "titleX": 65, "titleY": 274.5, "titleAngle": 270, "titleBaseline": "middle", "titleAlign": "center", "domainColor": "#3344ff", "tickColor": "#3344ff", "labelColor": "#3344ff", "titleColor": "#3344ff"}},
    "color": {"datum": "Uptakes(cm³(STP)/cm³)"},
    "shape": {"datum": "Uptakes(cm³(STP)/cm³)"}
   }}
 ],
 "resolve": {"scale": {"y": "independent"}, "axis": {"y": "independent"}}
},
{
 "width": 676, "height": 549,
 "title": {"text": "b)", "dx": -82, "offset": -34},
 "data": {"name": "b"},
 "layer": [
  {"mark": {"type": "point", "size": 118},
   "encoding": {
    "x": {"field": "x", "type": "quantitative", "scale": {"domain": [-1.8, 37.9], "nice": false, "zero": false}, "axis": {"values": [0,5,10,15,20,25,30,35], "title": "Compressive Strain (%)", "titleX": 338, "titleY": 48, "titleBaseline": "middle", "titleAlign": "center"}},
    "y": {"field": "m", "type": "quantitative", "scale": {"domain": [43.37, 77.03], "nice": false, "zero": false}, "axis": {"orient": "left", "values": [45,50,55,60,65,70,75], "title": "H₂ Uptake (mg/g)", "titleX": -57.5, "titleY": 274.5, "titleAngle": 270, "titleBaseline": "middle", "titleAlign": "center"}},
    "color": {"datum": "Uptakes(mg/g)", "scale": {"domain": ["Uptakes(mg/g)", "Uptakes(cm³(STP)/cm³)"], "range": ["#000000", "#3344ff"]}, "legend": {"legendX": 208, "legendY": 401, "rowPadding": 12, "encode": {"labels": {"update": {"fill": {"signal": "datum.value === 'Uptakes(mg/g)' ? '#000000' : '#3344ff'"}}}}}},
    "shape": {"datum": "Uptakes(mg/g)", "scale": {"domain": ["Uptakes(mg/g)", "Uptakes(cm³(STP)/cm³)"], "range": ["circle", "cross"]}, "legend": {"legendX": 208, "legendY": 401, "rowPadding": 12, "encode": {"labels": {"update": {"fill": {"signal": "datum.value === 'Uptakes(mg/g)' ? '#000000' : '#3344ff'"}}}}}}
   }},
  {"mark": {"type": "point", "size": 120},
   "encoding": {
    "x": {"field": "x", "type": "quantitative", "scale": {"domain": [-1.8, 37.9], "nice": false, "zero": false}},
    "y": {"field": "v", "type": "quantitative", "scale": {"domain": [350, 550], "nice": false, "zero": false}, "axis": {"orient": "right", "values": [350,375,400,425,450,475,500,525,550], "title": "H₂ Uptake (cm³ STP / cm³)", "titleX": 62, "titleY": 274.5, "titleAngle": 270, "titleBaseline": "middle", "titleAlign": "center", "domainColor": "#3344ff", "tickColor": "#3344ff", "labelColor": "#3344ff", "titleColor": "#3344ff"}},
    "color": {"datum": "Uptakes(cm³(STP)/cm³)"},
    "shape": {"datum": "Uptakes(cm³(STP)/cm³)"}
   }}
 ],
 "resolve": {"scale": {"y": "independent"}, "axis": {"y": "independent"}}
},
{
 "width": 667, "height": 549,
 "title": {"text": "c)", "dx": -99, "offset": 5},
 "data": {"name": "c"},
 "layer": [
  {"mark": {"type": "point", "size": 118},
   "encoding": {
    "x": {"field": "x", "type": "quantitative", "scale": {"domain": [-1.79, 37.59], "nice": false, "zero": false}, "axis": {"values": [0,5,10,15,20,25,30,35], "title": "Compressive Strain (%)", "titleX": 333.5, "titleY": 48, "titleBaseline": "middle", "titleAlign": "center"}},
    "y": {"field": "m", "type": "quantitative", "scale": {"domain": [62.3, 171.5], "nice": false, "zero": false}, "axis": {"orient": "left", "values": [80,100,120,140,160], "title": "CH₄ Uptake (mg/g)", "titleX": -68, "titleY": 274.5, "titleAngle": 270, "titleBaseline": "middle", "titleAlign": "center"}},
    "color": {"datum": "Uptakes(mg/g)", "scale": {"domain": ["Uptakes(mg/g)", "Uptakes(cm³(STP)/cm³)"], "range": ["#000000", "#3344ff"]}, "legend": {"legendX": 204, "legendY": 420, "rowPadding": 19, "encode": {"labels": {"update": {"fill": {"signal": "datum.value === 'Uptakes(mg/g)' ? '#000000' : '#3344ff'"}}}}}},
    "shape": {"datum": "Uptakes(mg/g)", "scale": {"domain": ["Uptakes(mg/g)", "Uptakes(cm³(STP)/cm³)"], "range": ["circle", "cross"]}, "legend": {"legendX": 204, "legendY": 420, "rowPadding": 19, "encode": {"labels": {"update": {"fill": {"signal": "datum.value === 'Uptakes(mg/g)' ? '#000000' : '#3344ff'"}}}}}}
   }},
  {"mark": {"type": "point", "size": 120},
   "encoding": {
    "x": {"field": "x", "type": "quantitative", "scale": {"domain": [-1.79, 37.59], "nice": false, "zero": false}},
    "y": {"field": "v", "type": "quantitative", "scale": {"domain": [100.0, 168.1], "nice": false, "zero": false}, "axis": {"orient": "right", "values": [110,120,130,140,150,160], "title": "CH₄ Uptake (cm³ STP / cm³)", "titleX": 65, "titleY": 274.5, "titleAngle": 270, "titleBaseline": "middle", "titleAlign": "center", "domainColor": "#3344ff", "tickColor": "#3344ff", "labelColor": "#3344ff", "titleColor": "#3344ff"}},
    "color": {"datum": "Uptakes(cm³(STP)/cm³)"},
    "shape": {"datum": "Uptakes(cm³(STP)/cm³)"}
   }}
 ],
 "resolve": {"scale": {"y": "independent"}, "axis": {"y": "independent"}}
},
{
 "width": 676, "height": 549,
 "title": {"text": "d)", "dx": -82, "offset": -5},
 "data": {"name": "d"},
 "layer": [
  {"mark": {"type": "point", "size": 118},
   "encoding": {
    "x": {"field": "x", "type": "quantitative", "scale": {"domain": [-1.775, 37.275], "nice": false, "zero": false}, "axis": {"values": [0,5,10,15,20,25,30,35], "title": "Compressive Strain (%)", "titleX": 338, "titleY": 48, "titleBaseline": "middle", "titleAlign": "center"}},
    "y": {"field": "m", "type": "quantitative", "scale": {"domain": [27.9, 65.8], "nice": false, "zero": false}, "axis": {"orient": "left", "values": [30,35,40,45,50,55,60,65], "title": "H₂ Uptake (mg/g)", "titleX": -57.5, "titleY": 274.5, "titleAngle": 270, "titleBaseline": "middle", "titleAlign": "center"}},
    "color": {"datum": "Uptakes(mg/g)", "scale": {"domain": ["Uptakes(mg/g)", "Uptakes(cm³(STP)/cm³)"], "range": ["#000000", "#3344ff"]}, "legend": {"legendX": 205, "legendY": 401, "rowPadding": 12, "encode": {"labels": {"update": {"fill": {"signal": "datum.value === 'Uptakes(mg/g)' ? '#000000' : '#3344ff'"}}}}}},
    "shape": {"datum": "Uptakes(mg/g)", "scale": {"domain": ["Uptakes(mg/g)", "Uptakes(cm³(STP)/cm³)"], "range": ["circle", "cross"]}, "legend": {"legendX": 205, "legendY": 401, "rowPadding": 12, "encode": {"labels": {"update": {"fill": {"signal": "datum.value === 'Uptakes(mg/g)' ? '#000000' : '#3344ff'"}}}}}}
   }},
  {"mark": {"type": "point", "size": 120},
   "encoding": {
    "x": {"field": "x", "type": "quantitative", "scale": {"domain": [-1.775, 37.275], "nice": false, "zero": false}},
    "y": {"field": "v", "type": "quantitative", "scale": {"domain": [350, 550], "nice": false, "zero": false}, "axis": {"orient": "right", "values": [350,375,400,425,450,475,500,525,550], "title": "H₂ Uptake (cm³ STP / cm³)", "titleX": 62, "titleY": 274.5, "titleAngle": 270, "titleBaseline": "middle", "titleAlign": "center", "domainColor": "#3344ff", "tickColor": "#3344ff", "labelColor": "#3344ff", "titleColor": "#3344ff"}},
    "color": {"datum": "Uptakes(cm³(STP)/cm³)"},
    "shape": {"datum": "Uptakes(cm³(STP)/cm³)"}
   }}
 ],
 "resolve": {"scale": {"y": "independent"}, "axis": {"y": "independent"}}
}
]
}
